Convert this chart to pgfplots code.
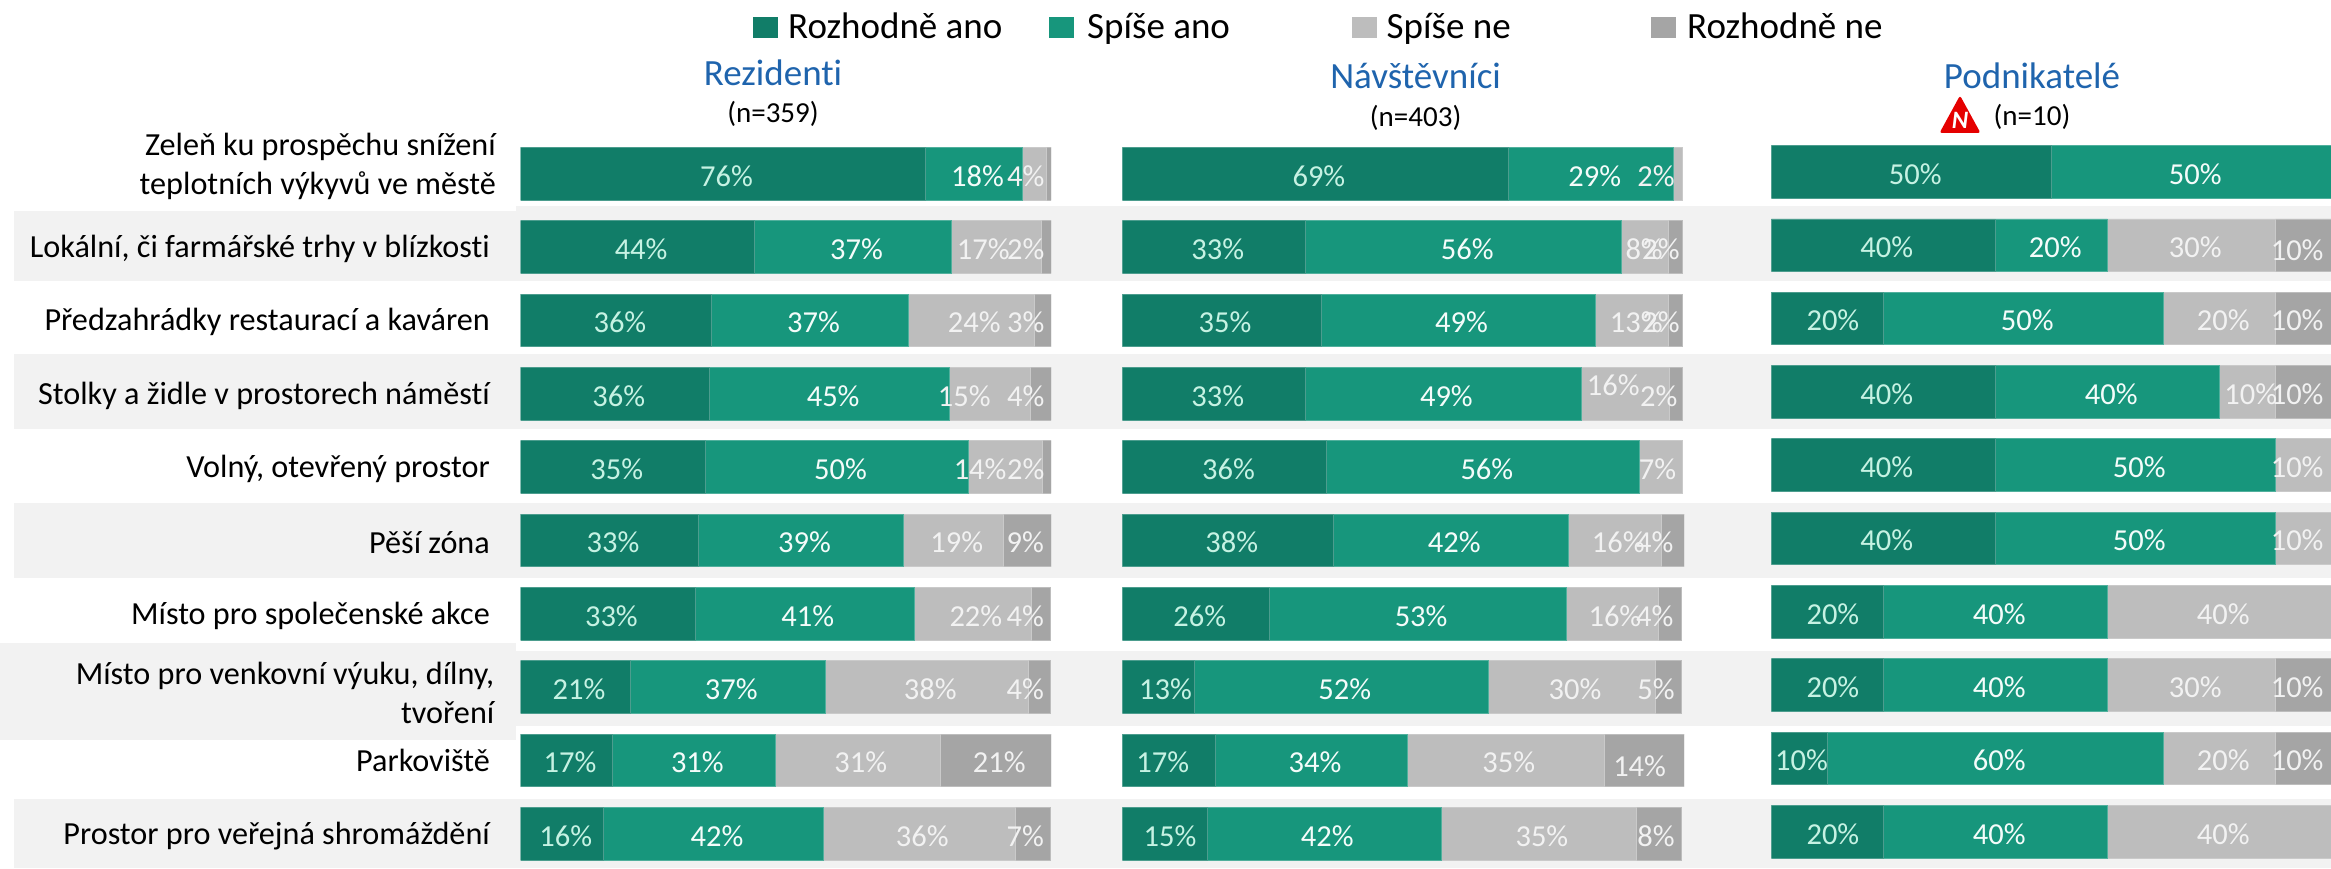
\documentclass[border=0pt]{standalone}
\usepackage{fontspec}
\setmainfont[Ligatures=NoCommon]{Carlito}
\usepackage{pgfplots}
\usepackage{pgfplotstable}
\pgfplotsset{compat=1.18}
\definecolor{cA}{HTML}{117D68}
\definecolor{cB}{HTML}{17967C}
\definecolor{cC}{HTML}{BDBDBD}
\definecolor{cD}{HTML}{A5A5A5}
\definecolor{band}{HTML}{F2F2F2}
\definecolor{ttl}{HTML}{1F64AD}
\definecolor{tA}{HTML}{C6F2E3}
\definecolor{tB}{HTML}{F4FCFA}
\definecolor{tC}{HTML}{F2F2F2}
\newcommand\lblfont{\fontsize{30.5}{36}\selectfont}
\pgfplotstableread{
row a b c d
1 76.3 18.2 4.5 1.0
2 44.0 37.1 17.1 1.8
3 35.9 37.1 23.8 3.2
4 35.6 45.2 15.2 4.0
5 34.8 49.6 14.0 1.6
6 33.5 38.6 18.8 9.1
7 32.9 41.2 22.1 3.6
8 20.6 36.8 38.2 4.2
9 17.3 30.6 31.1 21.0
10 15.6 41.5 36.1 6.6
}\rez
\pgfplotstableread{
row a b c d
1 68.8 29.3 1.6 0
2 32.6 56.2 8.4 2.5
3 35.4 48.8 13.0 2.5
4 32.6 49.1 15.6 2.4
5 36.3 55.8 7.6 0
6 37.6 41.8 16.5 4.1
7 26.1 52.9 16.4 4.1
8 12.8 52.3 29.7 4.7
9 16.6 34.1 35.1 14.2
10 15.1 41.6 34.8 8.0
}\nav
\pgfplotstableread{
row a b c d
1 50 50 0 0
2 40 20 30 10
3 20 50 20 10
4 40 40 10 10
5 40 50 10 0
6 40 50 10 0
7 20 40 40 0
8 20 40 30 10
9 10 60 20 10
10 20 40 40 0
}\pod
% label positions: x (percent along the bar), y (row), printed value
\pgfplotstableread{
x y v
38.8 1 76
22.7 2 44
18.7 3 36
18.5 4 36
18.1 5 35
17.4 6 33
17.1 7 33
11.0 8 21
9.3 9 17
8.5 10 16
}\rezLA
\pgfplotstableread{
x y v
86.1 1 18
63.3 2 37
55.2 3 37
58.9 4 45
60.3 5 50
53.5 6 39
54.1 7 41
39.7 8 37
33.3 9 31
37.0 10 42
}\rezLB
\pgfplotstableread{
x y v
95.2 1 4
87.2 2 17
95.2 2 2
85.5 3 24
95.2 3 3
83.6 4 15
95.2 4 4
86.6 5 14
95.2 5 2
82.2 6 19
95.1 6 9
85.8 7 22
95.1 7 4
77.2 8 38
95.1 8 4
64.1 9 31
90.2 9 21
75.7 10 36
95.1 10 7
}\rezLC
\pgfplotstableread{
x y v
35.0 1 69
17.0 2 33
18.3 3 35
17.0 4 33
18.9 5 36
19.5 6 38
13.8 7 26
7.7 8 13
7.2 9 17
8.5 10 15
}\navLA
\pgfplotstableread{
x y v
84.1 1 29
61.4 2 56
60.4 3 49
57.7 4 49
64.9 5 56
59.1 6 42
53.2 7 53
39.6 8 52
34.3 9 34
36.5 10 42
}\navLB
\pgfplotstableread{
x y v
95.0 1 2
92.9 2 8
95.9 2 2
91.5 3 13
95.9 3 2
87.4 3.855 16
95.5 4 2
95.3 5 7
88.3 6 16
94.8 6 4
87.7 7 16
94.8 7 4
80.6 8 30
95.0 8 5
68.8 9 35
92.1 9.05 14
74.7 10 35
95.0 10 8
}\navLC
\pgfplotstableread{
x y v
25.7 1 50
20.6 2 40
11.0 3 20
20.6 4 40
20.6 5 40
20.6 6 40
11.0 7 20
11.0 8 20
5.4 9 10
11.0 10 20
}\podLA
\pgfplotstableread{
x y v
75.7 1 50
50.7 2 20
45.7 3 50
60.7 4 40
65.7 5 50
65.7 6 50
40.7 7 40
40.7 8 40
40.7 9 60
40.7 10 40
}\podLB
\pgfplotstableread{
x y v
75.7 2 30
93.9 2.04 10
80.7 3 20
93.9 3 10
85.6 4 10
93.9 4 10
93.9 5 10
93.9 6 10
80.7 7 40
75.7 8 30
93.9 8 10
80.7 9 20
93.9 9 10
80.7 10 40
}\podLC
\pgfplotsset{
  panel/.style={scale only axis, anchor=south west, height=718.6pt,
    xmin=0, xmax=100, ymin=0.6, ymax=10.4, y dir=reverse,
    axis line style={draw=none}, tick style={draw=none}, major tick length=0pt,
    xtick=\empty, ytick=\empty},
  barpanel/.style={panel, xbar stacked, bar width=52.5pt},
  segA/.style={fill=cA, draw=cA!75!white, line width=0.6pt},
  segB/.style={fill=cB, draw=cB!75!white, line width=0.6pt},
  segC/.style={fill=cC, draw=cC!80!white, line width=0.6pt},
  segD/.style={fill=cD, draw=cC, line width=0.6pt},
  lbl/.style={draw=none, mark=none, forget plot, point meta=explicit,
    nodes near coords={\pgfmathprintnumber[assume math mode=true]{\pgfplotspointmeta}\%},
    every node near coord/.style={anchor=center, inner sep=0pt, yshift=-2.3pt, font=\lblfont, text=#1}},
}
\newcommand\bars[1]{%
  \addplot[segA] table[x=a,y=row]{#1};
  \addplot[segB] table[x=b,y=row]{#1};
  \addplot[segC] table[x=c,y=row]{#1};
  \addplot[segD] table[x=d,y=row]{#1};
}
\newcommand\labels[3]{%
  \addplot[lbl=tA] table[x=x,y=y,meta=v]{#1};
  \addplot[lbl=tB] table[x=x,y=y,meta=v]{#2};
  \addplot[lbl=tC] table[x=x,y=y,meta=v]{#3};
}
\begin{document}
\begin{tikzpicture}[x=1pt,y=1pt]
\path[use as bounding box] (0,0) rectangle (2331,868);
% background bands
\fill[band] (516,662) rectangle (2331,587);
\fill[band] (516,514) rectangle (2331,439);
\fill[band] (516,365) rectangle (2331,290);
\fill[band] (516,217) rectangle (2331,142);
\fill[band] (516,69) rectangle (2331,0);
\fill[band] (14,657) rectangle (516,587);
\fill[band] (14,514) rectangle (516,439);
\fill[band] (14,365) rectangle (516,290);
\fill[band] (0,225) rectangle (516,128);
\fill[band] (14,69) rectangle (516,0);
% legend
\fill[cA] (753,830) rectangle (778,851);
\fill[cB] (1049,830) rectangle (1074,851);
\fill[cC] (1352,830) rectangle (1377,851);
\fill[cD] (1651,830) rectangle (1676,851);
\newcommand\legfont{\fontsize{37}{42}\selectfont}
\node[anchor=base west,inner sep=0pt,font=\legfont] at (788,829.5) {Rozhodně ano};
\node[anchor=base west,inner sep=0pt,font=\legfont] at (1087,829.5) {Spíše ano};
\node[anchor=base west,inner sep=0pt,font=\legfont] at (1386.5,829.5) {Spíše ne};
\node[anchor=base west,inner sep=0pt,font=\legfont] at (1687,829.5) {Rozhodně ne};
% panel titles
\newcommand\ttlfont{\fontsize{37}{42}\selectfont}
\newcommand\nfont{\fontsize{29}{34}\selectfont}
\node[anchor=base,inner sep=0pt,font=\ttlfont,text=ttl] at (773,782) {Rezidenti};
\node[anchor=base,inner sep=0pt,font=\nfont] at (773,745.5) {(n=359)};
\node[anchor=base,inner sep=0pt,font=\ttlfont,text=ttl] at (1415.6,779.5) {Návštěvníci};
\node[anchor=base,inner sep=0pt,font=\nfont] at (1415.6,741) {(n=403)};
\node[anchor=base,inner sep=0pt,font=\ttlfont,text=ttl] at (2032,779.5) {Podnikatelé};
\node[anchor=base,inner sep=0pt,font=\nfont] at (2032,742) {(n=10)};
\fill[fill=red!90!black, rounded corners=2.5pt] (1939.5,735) -- (1960,772.5) -- (1980.5,735) -- cycle;
\node[inner sep=0pt,text=white,font=\fontsize{25}{28}\selectfont\bfseries\itshape] at (1960,748) {N};
% Rezidenti
\begin{axis}[barpanel, at={(520.7pt,5.1pt)}, width=530.5pt,
  ytick={0.868,2,3,4,5,6,7,8.06,8.97,10},
  yticklabels={{Zeleň ku prospěchu snížení\\teplotních výkyvů ve městě},
    {Lokální, či farmářské trhy v blízkosti\hspace*{6pt}},
    {Předzahrádky restaurací a kaváren\hspace*{6pt}},
    {Stolky a židle v prostorech náměstí\hspace*{6pt}},
    {Volný, otevřený prostor\hspace*{6pt}},
    {Pěší zóna\hspace*{6pt}},
    {Místo pro společenské akce\hspace*{6pt}},
    {Místo pro venkovní výuku, dílny,\hspace*{1.5pt}\\tvoření\hspace*{1.5pt}},
    {Parkoviště\hspace*{6pt}},
    {Prostor pro veřejná shromáždění\hspace*{6pt}}},
  y tick label style={anchor=east, inner sep=0pt, align=right, xshift=-24.7pt, yshift=-2pt,
    font=\fontsize{32.2}{39}\selectfont}]
\bars{\rez}
\end{axis}
\begin{axis}[panel, at={(520.7pt,5.1pt)}, width=530.5pt, clip=false]
\labels{\rezLA}{\rezLB}{\rezLC}
\end{axis}
% Návštěvníci
\begin{axis}[barpanel, at={(1122.3pt,5.1pt)}, width=561.7pt]
\bars{\nav}
\end{axis}
\begin{axis}[panel, at={(1122.3pt,5.1pt)}, width=561.7pt, clip=false]
\labels{\navLA}{\navLB}{\navLC}
\end{axis}
% Podnikatelé
\begin{axis}[barpanel, at={(1771.3pt,7pt)}, width=560pt]
\bars{\pod}
\end{axis}
\begin{axis}[panel, at={(1771.3pt,7pt)}, width=560pt, clip=false]
\labels{\podLA}{\podLB}{\podLC}
\end{axis}
\end{tikzpicture}
\end{document}
